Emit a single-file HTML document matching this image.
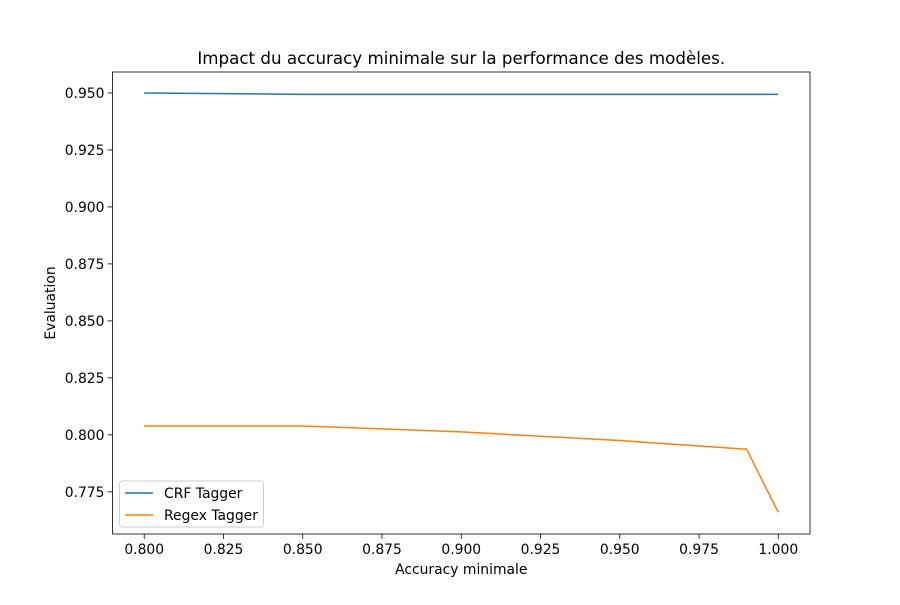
<!DOCTYPE html>
<html><head><meta charset="utf-8"><style>
body{margin:0;background:#fff;}
svg text{font-family:"DejaVu Sans","Liberation Sans",sans-serif;fill:#000;}
</style></head><body>
<svg id="chart" width="900" height="600" xmlns="http://www.w3.org/2000/svg">
<rect width="900" height="600" fill="#fff"/>
<g id="plot"></g>
</svg>
<script>
const xValues=[0.80,0.85,0.90,0.95,0.99,1.00];
const crfValues=[0.9500,0.9494,0.9494,0.9494,0.9494,0.9494];
const regexValues=[0.8039,0.8039,0.8013,0.7975,0.7937,0.7660];
const xTicks=[0.800,0.825,0.850,0.875,0.900,0.925,0.950,0.975,1.000];
const yTicks=[0.775,0.800,0.825,0.850,0.875,0.900,0.925,0.950];
const L=112.5,R=810,T=72,B=534;
const xMin=0.79,xMax=1.01,yMin=0.7565,yMax=0.9592;
const sx=v=>L+(v-xMin)/(xMax-xMin)*(R-L);
const sy=v=>B-(v-yMin)/(yMax-yMin)*(B-T);
const NS="http://www.w3.org/2000/svg";
const g=document.getElementById('plot');
function mk(tag,attrs,parent){const e=document.createElementNS(NS,tag);for(const k in attrs)e.setAttribute(k,attrs[k]);(parent||g).appendChild(e);return e;}
function txt(s,attrs){const e=mk('text',attrs);e.textContent=s;return e;}
const title=txt('Impact du accuracy minimale sur la performance des modèles.',{x:(L+R)/2,y:64,'text-anchor':'middle','font-size':'16.7'});


xTicks.forEach(v=>{
  const x=sx(v);
  mk('line',{x1:x,x2:x,y1:B,y2:B+4.9,stroke:'#000','stroke-width':0.8});
  const t=txt(v.toFixed(3),{x:x,y:B+20,'text-anchor':'middle','font-size':'13.9'});
  
  
});
yTicks.forEach(v=>{
  const y=sy(v);
  mk('line',{x1:L-4.9,x2:L,y1:y,y2:y,stroke:'#000','stroke-width':0.8});
  const t=txt(v.toFixed(3),{x:L-8,y:y+5,'text-anchor':'end','font-size':'13.9'});
  
  
});
const xl=txt('Accuracy minimale',{x:(L+R)/2,y:574,'text-anchor':'middle','font-size':'13.9'});


const yl=txt('Evaluation',{x:0,y:0,'text-anchor':'middle','font-size':'13.9',transform:`translate(55,${(T+B)/2}) rotate(-90)`});


function line(vals,color,name){
  const p=mk('polyline',{points:xValues.map((x,i)=>sx(x)+','+sy(vals[i])).join(' '),fill:'none',stroke:color,'stroke-width':1.5});
  
  
}
line(crfValues,'#1f77b4','crf-tagger-line');
line(regexValues,'#ff7f0e','regex-tagger-line');
const frame=mk('rect',{x:L,y:T,width:R-L,height:B-T,fill:'none',stroke:'#000','stroke-width':0.8});


const lg=mk('g',{});


mk('rect',{x:119.5,y:481,width:144,height:46,rx:3,fill:'#fff','fill-opacity':0.8,stroke:'#ccc','stroke-width':1},lg);
[['CRF Tagger','#1f77b4',493],['Regex Tagger','#ff7f0e',515]].forEach(([n,c,y])=>{
  mk('line',{x1:125,x2:153,y1:y,y2:y,stroke:c,'stroke-width':1.5},lg);
  const t=mk('text',{x:164,y:y+5,'font-size':'13.9'},lg);t.textContent=n;
  
  
});
</script>
</body></html>
